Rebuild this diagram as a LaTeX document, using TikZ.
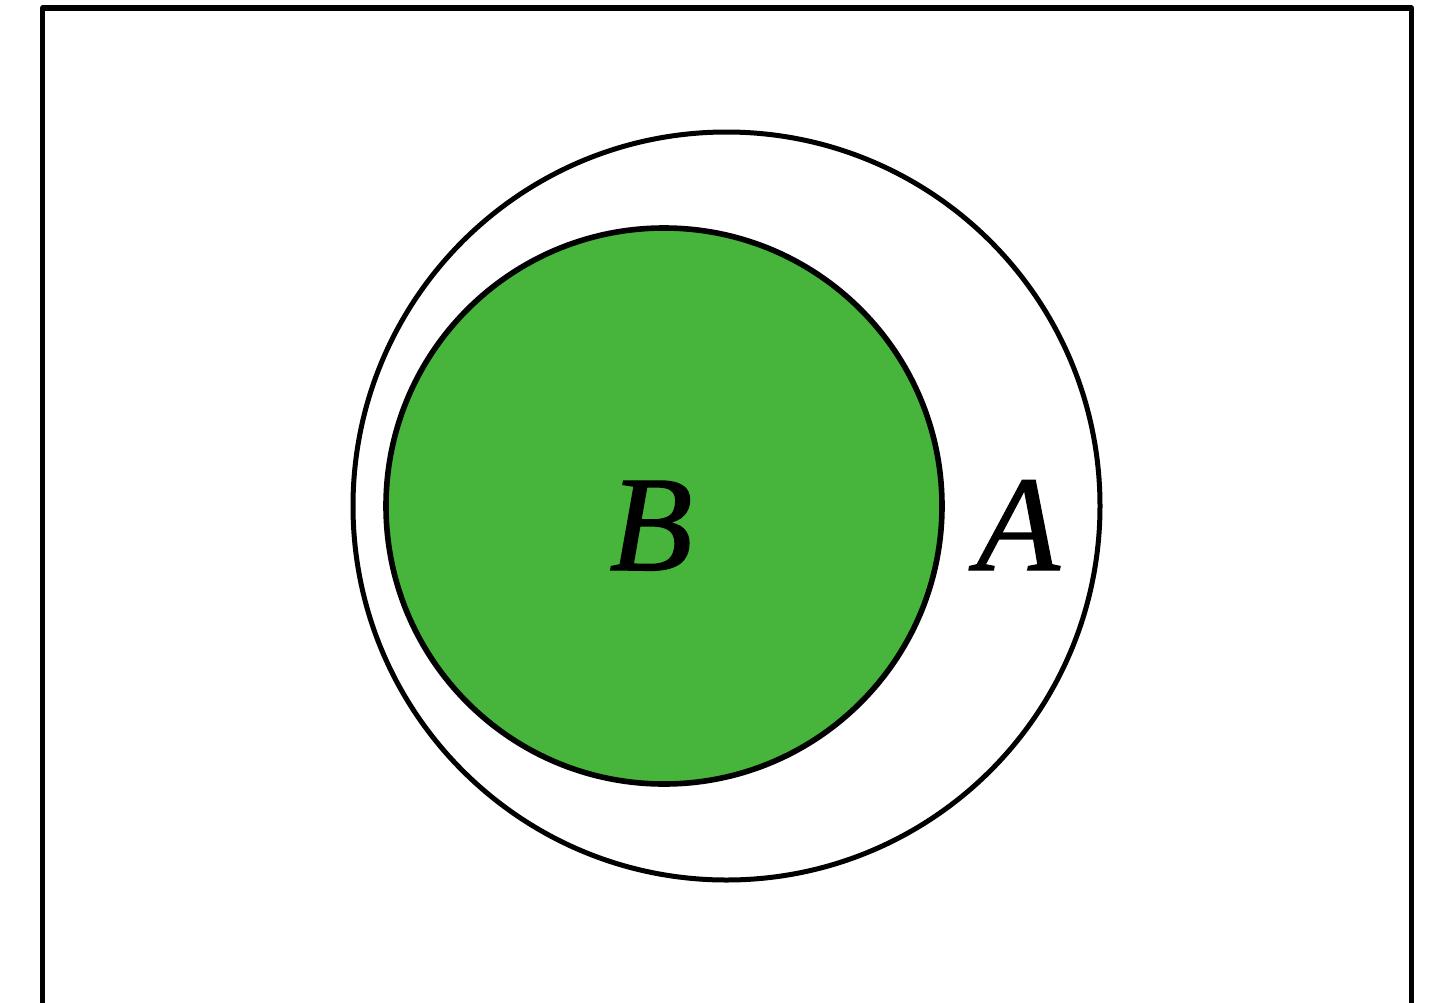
\documentclass[tikz,border=0pt]{standalone}
\usepackage{fontspec}
\setmainfont{Liberation Serif}
\newfontface\lblfont{Liberation Serif Italic}[FakeBold=1.0]
\definecolor{setgreen}{RGB}{71,181,60}
\begin{document}
\begin{tikzpicture}[x=0.5pt,y=-0.5pt,
  frame/.style={draw=black,line width=2.6pt,line join=round},
  outerset/.style={draw=black,line width=2.5pt},
  innerset/.style={draw=black,fill=setgreen,line width=2.8pt},
  setlabel/.style={font=\fontsize{68}{68}\lblfont,inner sep=0pt,anchor=base}]
\useasboundingbox (0,0) rectangle (1430,1002);
\begin{scope}
\clip (0,0) rectangle (1430,1002);
\draw[frame] (42.5,8) rectangle (1411.5,1040);
\end{scope}
\draw[outerset] (726.5,506) ellipse [x radius=373.5, y radius=374];
\draw[innerset] (664,506) circle [radius=278];
\node[setlabel] (B) at (651,570) {B};
\node[setlabel] (A) at (1018,570) {A};
\end{tikzpicture}
\end{document}
